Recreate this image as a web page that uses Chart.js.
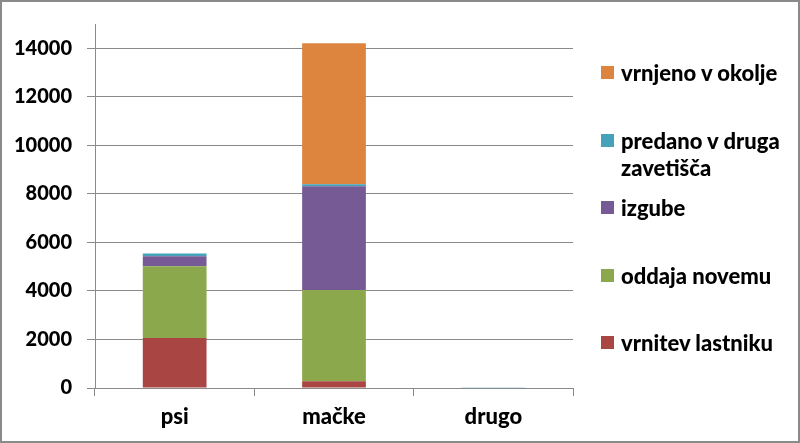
<!DOCTYPE html>
<html lang="sl">
<head>
  <meta charset="utf-8"/>
  <title>Zavetišča – izhodi živali</title>
  <script src="https://cdn.jsdelivr.net/npm/chart.js"></script>
  <style>
    html, body { margin: 0; padding: 0; background: #fff; }
    .frame {
      position: relative;
      width: 800px; height: 443px;
      box-sizing: border-box;
      border: 2px solid #8a8a8a;
      background: #fff;
    }
    canvas { position: absolute; left: 0; top: 0; }
    #legend {
      position: absolute;
      left: 599px; top: 57px;
      font-family: Lato, "Open Sans", sans-serif;
      font-weight: 900;
      font-size: 22px;
      color: #000;
    }
    #legend .item { display: flex; align-items: flex-start; height: 67.5px; }
    #legend .box { width: 13px; height: 13px; margin-top: 7px; margin-right: 7px; flex: none; }
    #legend .txt { line-height: 27px; white-space: pre-line; }
  </style>
</head>
<body>
  <div class="frame">
    <canvas id="chart" width="796" height="439"></canvas>
    <div id="legend"></div>
  </div>

  <script>
    // ── DATA ─────────────────────────────────────────
    const categories = ['psi', 'mačke', 'drugo'];
    const seriesNames = [
      'vrnitev lastniku',
      'oddaja novemu',
      'izgube',
      'predano v druga\nzavetišča',
      'vrnjeno v okolje'
    ];
    const vrnitevLastniku = [2060, 280, 0];
    const oddajaNovemu    = [2960, 3760, 0];
    const izgube          = [410, 4270, 0];
    const predano         = [110, 85, 35];
    const vrnjenoVOkolje  = [0, 5810, 0];
    const yTicks = [0, 2000, 4000, 6000, 8000, 10000, 12000, 14000];
    const colors = ['#a94644', '#8ca84c', '#765a96', '#45a2ba', '#dd843e'];
    // ──────────────────────────────────────────────────

    const seriesValues = [vrnitevLastniku, oddajaNovemu, izgube, predano, vrnjenoVOkolje];
    const yFont = { family: 'Lato, "Open Sans", sans-serif', size: 20, weight: 900 };
    const xFont = { family: 'Lato, "Open Sans", sans-serif', size: 22, weight: 900 };
    const lineGray = '#8a8a8a';

    const chart = new Chart(document.getElementById('chart'), {
      type: 'bar',
      data: {
        labels: categories,
        datasets: seriesNames.map((name, i) => ({
          label: name.replace('\n', ' '),
          data: seriesValues[i],
          backgroundColor: colors[i],
          borderWidth: 0,
          barPercentage: 0.4,
          categoryPercentage: 1
        }))
      },
      options: {
        responsive: false,
        animation: false,
        layout: { padding: { left: 11, top: 22, right: 225, bottom: 2 } },
        plugins: { legend: { display: false }, tooltip: { enabled: false } },
        scales: {
          x: {
            stacked: true,
            afterFit: s => { s.height = 51; s.paddingLeft = 0; s.paddingRight = 0; },
            grid: { drawOnChartArea: false, drawTicks: true, tickLength: 8, color: lineGray, offset: true },
            border: { display: true, color: lineGray },
            ticks: { color: '#000', font: xFont, padding: 8 }
          },
          y: {
            stacked: true,
            min: 0,
            max: 15000,
            afterBuildTicks: s => { s.ticks = yTicks.map(v => ({ value: v })); },
            afterFit: s => { s.width = 82; s.paddingTop = 0; s.paddingBottom = 0; },
            grid: { color: lineGray, tickLength: 8 },
            border: { display: true, color: lineGray },
            ticks: { color: '#000', font: yFont, padding: 15, callback: v => String(v) }
          }
        }
      }
    });

    // HTML legend, top to bottom in reverse stacking order
    const legend = document.getElementById('legend');
    seriesNames.map((name, i) => ({ name, color: colors[i] })).reverse().forEach(s => {
      const item = document.createElement('div');
      item.className = 'item';
      item.innerHTML = `<span class="box" style="background:${s.color}"></span><span class="txt"></span>`;
      item.querySelector('.txt').textContent = s.name;
      legend.appendChild(item);
    });
  </script>
</body>
</html>
